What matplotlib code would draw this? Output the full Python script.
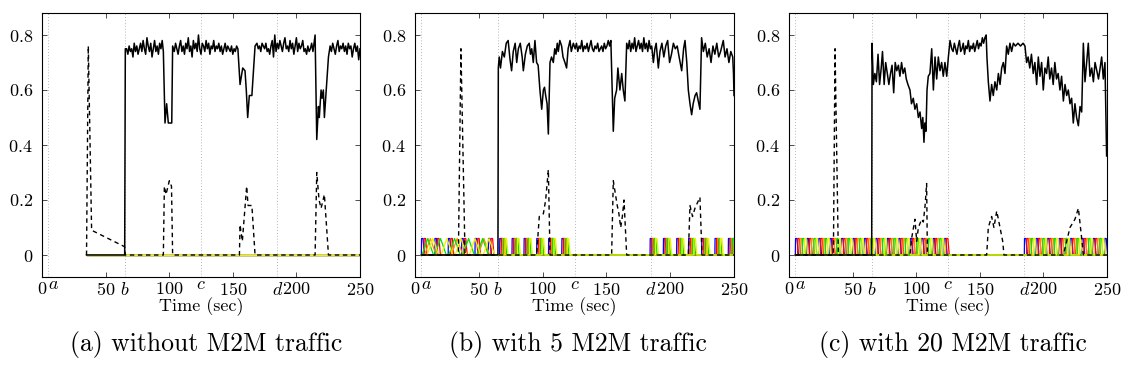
import numpy as np
import matplotlib
matplotlib.use('Agg')
import matplotlib.pyplot as plt
import matplotlib.transforms as mtransforms

plt.rcParams['font.family'] = 'cmr10'
plt.rcParams['mathtext.fontset'] = 'cm'
plt.rcParams['axes.unicode_minus'] = False

# ---------------- common chart data ----------------
x_ticks = [0, 50, 100, 150, 200, 250]
y_ticks = [0, 0.2, 0.4, 0.6, 0.8]
event_pos = [5, 65, 125, 185]
event_labels = ['a', 'b', 'c', 'd']
captions = ['(a) without M2M traffic', '(b) with 5 M2M traffic', '(c) with 20 M2M traffic']
xlabel = 'Time (sec)'
M2M_RATE = 0.06
m2m_colors = ['#0000ff', '#ff0000', '#ff8c00', '#00e000', '#f0f000']


def seg(t0, t1, values):
    """noise samples read at an even time step between t0 and t1"""
    return list(np.linspace(t0, t1, len(values))), list(values)


def join(*parts):
    t, v = [], []
    for pt, pv in parts:
        t += list(pt)
        v += list(pv)
    return t, v


# ---------------- panel (a) ----------------
a_solid = join(
    ([35, 65, 65.5], [0, 0, 0.75]),
    seg(66.5, 94.5, [0.75, 0.73, 0.76, 0.74, 0.75, 0.72, 0.77, 0.74, 0.76, 0.73, 0.75, 0.77, 0.74, 0.78,
                     0.75, 0.73, 0.79, 0.76, 0.74, 0.77, 0.72, 0.75, 0.78, 0.74, 0.76, 0.73, 0.77, 0.75, 0.78]),
    ([95.4, 96.7, 98, 99.3, 102, 102.7], [0.74, 0.48, 0.55, 0.48, 0.48, 0.76]),
    seg(104, 154, [0.74, 0.77, 0.75, 0.73, 0.76, 0.78, 0.74, 0.76, 0.73, 0.77, 0.75, 0.79, 0.74, 0.76,
                   0.72, 0.78, 0.75, 0.77, 0.74, 0.8, 0.75, 0.73, 0.77, 0.76, 0.74, 0.78, 0.75, 0.77,
                   0.73, 0.76, 0.75, 0.78, 0.74, 0.76, 0.75, 0.77, 0.74, 0.76, 0.73, 0.75, 0.77, 0.74,
                   0.76, 0.75, 0.74, 0.76, 0.73, 0.75, 0.74, 0.76, 0.75]),
    ([155.7, 157.8, 159.6, 160.6, 161.7, 163, 165, 167.5], [0.62, 0.68, 0.67, 0.6, 0.5, 0.58, 0.58, 0.76]),
    seg(169, 213, [0.77, 0.75, 0.76, 0.74, 0.77, 0.76, 0.75, 0.77, 0.74, 0.75, 0.73, 0.76, 0.78, 0.72,
                   0.8, 0.74, 0.77, 0.75, 0.78, 0.76, 0.74, 0.77, 0.79, 0.75, 0.76, 0.74, 0.78, 0.75,
                   0.77, 0.73, 0.76, 0.79, 0.74, 0.77, 0.75, 0.76, 0.78, 0.74, 0.75, 0.73, 0.76, 0.74,
                   0.75, 0.77, 0.74]),
    ([214.7, 216, 217.3, 218, 219.4, 220.2, 221.2, 222, 225.2], [0.8, 0.42, 0.54, 0.5, 0.6, 0.57, 0.6, 0.5, 0.72]),
    seg(226.5, 250, [0.76, 0.74, 0.77, 0.75, 0.73, 0.76, 0.78, 0.74, 0.76, 0.75, 0.77, 0.74, 0.76, 0.73,
                     0.77, 0.75, 0.76, 0.72, 0.75, 0.77, 0.74, 0.76, 0.71, 0.75]),
)
a_dash_t = [35, 36.4, 39, 65, 65.5, 95.4, 96.2, 97.5, 100.1, 101.8, 102.7, 155.2, 155.7, 157.5, 160.9,
            162, 165, 167.5, 214.7, 216, 217.8, 219.4, 222, 225.2, 250]
a_dash_v = [0, 0.76, 0.09, 0.03, 0, 0, 0.25, 0.22, 0.27, 0.25, 0, 0, 0.11, 0.05, 0.25,
            0.18, 0.18, 0, 0, 0.3, 0.2, 0.17, 0.22, 0, 0]
a_m2m = [dict(sharp=[], tri=[]) for _ in range(5)]
a_m2m_span = (35, 250)

# ---------------- panel (b) ----------------
b_solid_t = [5, 65, 65.3, 66, 67, 68.5, 70, 71.5, 73, 74.5, 75.7, 77, 78.5, 79.7, 81, 82.5, 84, 84.9, 86.5,
             88, 89.5, 90.5, 91.5, 92.7, 94, 95.3, 96.5, 97.9, 99.3, 100.6, 101.5, 102.4, 103.5, 104.5,
             105.8, 107, 108.4, 109.5, 110.5, 111.5, 112.3, 113.5, 114.9, 116, 117.5, 118.8, 120, 121.5,
             122.5, 124.1]
b_solid_v = [0, 0, 0.68, 0.72, 0.68, 0.74, 0.72, 0.77, 0.78, 0.71, 0.67, 0.74, 0.77, 0.7, 0.75, 0.77, 0.72,
             0.67, 0.73, 0.76, 0.77, 0.73, 0.75, 0.7, 0.78, 0.7, 0.69, 0.6, 0.53, 0.6, 0.61, 0.58, 0.55,
             0.44, 0.7, 0.72, 0.7, 0.75, 0.73, 0.77, 0.74, 0.78, 0.76, 0.72, 0.7, 0.68, 0.75, 0.78, 0.74,
             0.77]
b_solid = join(
    (b_solid_t, b_solid_v),
    seg(125.5, 152.5, [0.75, 0.77, 0.74, 0.76, 0.75, 0.78, 0.74, 0.76, 0.75, 0.77, 0.74, 0.76, 0.78, 0.75,
                       0.74, 0.76, 0.75, 0.77, 0.74, 0.75, 0.76, 0.74, 0.77, 0.75, 0.76, 0.78, 0.76]),
    ([153.5, 155.4, 156.5, 158, 159, 160.6, 162, 163.2, 164.5, 165.9],
     [0.78, 0.45, 0.57, 0.6, 0.68, 0.6, 0.66, 0.6, 0.56, 0.77]),
    seg(167, 185.5, [0.75, 0.78, 0.74, 0.77, 0.75, 0.79, 0.74, 0.76, 0.78, 0.75, 0.77, 0.74, 0.79, 0.75,
                     0.77, 0.74, 0.78, 0.75, 0.76]),
    ([186.8, 188, 189, 190.7, 192, 193.5, 195, 196.5, 198, 199.5, 201, 202.5, 204, 205.5, 207, 209, 210.5,
      211.6, 213, 214.2, 215.5, 216.8, 218, 219.5, 220.7, 222, 223.3, 224.6, 226, 227.5, 229, 230.5, 232,
      233.5, 235, 236.5, 238, 239.5, 241.6, 243, 244.5, 246, 247.5, 249, 249.6, 250],
     [0.7, 0.75, 0.77, 0.68, 0.74, 0.77, 0.72, 0.76, 0.78, 0.7, 0.73, 0.77, 0.75, 0.76, 0.72, 0.67, 0.75,
      0.78, 0.7, 0.6, 0.55, 0.51, 0.55, 0.58, 0.59, 0.56, 0.53, 0.79, 0.74, 0.77, 0.72, 0.75, 0.7,
      0.76, 0.73, 0.77, 0.72, 0.74, 0.78, 0.72, 0.75, 0.7, 0.74, 0.72, 0.66, 0.58]),
)
b_dash_t = [5, 34, 36, 39.2, 95.3, 97.4, 100.6, 102.4, 104.5, 105.8, 154.1, 155.4, 158.5, 159.8, 161.2,
            162.5, 163.8, 165.9, 214.2, 215.5, 217.5, 219.4, 223.3, 224.9, 250]
b_dash_v = [0, 0, 0.75, 0, 0, 0.14, 0.15, 0.2, 0.31, 0, 0, 0.27, 0.18, 0.15, 0.1,
            0.14, 0.2, 0, 0, 0.18, 0.14, 0.17, 0.21, 0, 0]
b_m2m = [
    dict(sharp=[5, 15.5, 26, 36.5, 47, 57.5, 66.3, 76, 85.4, 95.3, 104.6, 115,
                184.2, 194.6, 205, 214.3, 224.6, 235, 245.5], tri=[]),
    dict(sharp=[7, 17.5, 28, 38.5, 49, 59.5, 67.5, 77.2, 86.6, 96.5, 105.8, 116.2,
                185.4, 195.8, 206.2, 215.5, 225.8, 236.2, 246.7], tri=[]),
    dict(sharp=[68.5, 78.2, 87.6, 97.5, 106.8, 117.2,
                186.4, 196.8, 207.2, 216.5, 226.8, 237.2, 247.7], tri=[12, 33, 54]),
    dict(sharp=[69.5, 79.2, 88.6, 98.5, 107.8, 118.2,
                187.4, 197.8, 208.2, 217.5, 227.8, 238.2, 248.6], tri=[10, 20, 31, 42, 53]),
    dict(sharp=[70.5, 80.2, 89.6, 99.5, 108.8, 119.2,
                188.4, 198.8, 209.2, 218.5, 228.8, 239.2], tri=[14, 25, 36, 47, 58]),
]
b_m2m_span = (5, 250)

# ---------------- panel (c) ----------------
c_solid = join(
    ([5, 65, 65.3, 66.3, 67.5, 68.7, 70, 71.2, 72.5, 73.5, 74.8, 76, 77.3, 78.5, 79.8, 81, 82.3, 83.5,
      84.7, 86, 87.2, 88.5, 89.7, 91, 92.2, 93.5, 95.1, 96.3, 97.7, 99, 100.4, 101.7, 103, 104.3, 105.2,
      106.1, 106.8, 107.7, 108.5, 109.5, 110.8, 112.2, 113.5, 114.8, 116.1, 117.4, 118.7, 120, 121.3,
      122.6, 124, 125.3, 126.6, 127.9],
     [0, 0, 0.77, 0.62, 0.66, 0.63, 0.73, 0.62, 0.68, 0.74, 0.62, 0.7, 0.66, 0.62, 0.66, 0.69, 0.59, 0.7,
      0.67, 0.69, 0.65, 0.7, 0.66, 0.68, 0.64, 0.62, 0.6, 0.55, 0.57, 0.53, 0.55, 0.5, 0.52, 0.46, 0.5,
      0.41, 0.48, 0.45, 0.6, 0.65, 0.66, 0.75, 0.6, 0.72, 0.64, 0.72, 0.67, 0.7, 0.65,
      0.7, 0.65, 0.72, 0.78, 0.75]),
    seg(129, 154, [0.74, 0.77, 0.75, 0.73, 0.76, 0.78, 0.74, 0.75, 0.77, 0.73, 0.76, 0.75, 0.78, 0.74,
                   0.76, 0.75, 0.77, 0.74, 0.76, 0.78, 0.75, 0.77, 0.76, 0.79, 0.77, 0.79]),
    ([155, 155.6, 156.7, 158, 159.3, 160.6, 161.9, 163.3, 164.6, 165.9, 167.2, 168.5, 169.8, 171.1, 172.4,
      173.7, 175, 176.4, 178, 180, 182, 184, 185.5, 186.8, 188, 189.3, 190.6, 192, 193.3, 194.7, 196,
      197.3, 198.6, 199.9, 201.2, 202.5, 203.8, 205, 206.4, 207.7, 209, 210.3, 211.6, 213, 214.3, 215.7,
      217, 218.3, 219.6, 220.9, 222.2, 223.5, 224.8, 226.1, 227.5, 228.8, 230.1, 231.4, 232.7, 234,
      235.3, 236.6, 238, 239.3, 240.6, 242, 243.3, 244.6, 245.8, 247.1, 248.4, 249.7],
     [0.8, 0.72, 0.63, 0.56, 0.62, 0.58, 0.63, 0.6, 0.66, 0.62, 0.68, 0.7, 0.66, 0.76, 0.73,
      0.77, 0.74, 0.77, 0.76, 0.77, 0.76, 0.77, 0.76, 0.7, 0.72, 0.68, 0.73, 0.66, 0.7, 0.62, 0.72,
      0.65, 0.7, 0.6, 0.68, 0.66, 0.72, 0.64, 0.68, 0.62, 0.7, 0.64, 0.66, 0.6, 0.65, 0.56,
      0.62, 0.58, 0.6, 0.55, 0.57, 0.48, 0.55, 0.5, 0.47, 0.54, 0.52, 0.77, 0.63, 0.7,
      0.77, 0.65, 0.68, 0.63, 0.7, 0.67, 0.64, 0.68, 0.72, 0.64, 0.7, 0.36]),
)
c_dash_t = [5, 34.9, 36.2, 38.8, 95.1, 96.4, 99, 100.4, 101.7, 104.3, 105.6, 107, 108.2, 108.8,
            155.4, 156.7, 159.3, 161.1, 163.3, 165.9, 168, 169, 215.7, 218.3, 220.9, 224.8, 227.5,
            230.1, 231.4, 250]
c_dash_v = [0, 0, 0.75, 0, 0, 0.06, 0.13, 0.05, 0.1, 0.13, 0.12, 0.18, 0.26, 0,
            0, 0.1, 0.14, 0.1, 0.16, 0.1, 0.05, 0, 0, 0.05, 0.1, 0.13, 0.17,
            0.06, 0, 0]
c_m2m = [
    dict(sharp=[5, 14, 23.2, 32, 41.1, 50, 59.2, 68, 77.1, 86, 95.2, 104, 113.1, 122,
                185, 194.1, 203, 212.2, 221, 230.1, 239, 248.1], tri=[]),
    dict(sharp=[6.8, 15.9, 24.8, 33.9, 42.8, 51.9, 60.8, 69.9, 78.8, 87.9, 96.8, 105.9, 114.8, 123.6,
                186.8, 195.9, 204.8, 213.9, 222.8, 231.9, 240.8], tri=[]),
    dict(sharp=[8.6, 17.6, 26.7, 35.6, 44.7, 53.6, 62.7, 71.6, 80.7, 89.6, 98.7, 107.6, 116.7,
                188.6, 197.7, 206.6, 215.7, 224.6, 233.7, 242.6], tri=[]),
    dict(sharp=[10.4, 19.5, 28.4, 37.5, 46.4, 55.5, 64.4, 73.5, 82.4, 91.5, 100.4, 109.5, 118.4,
                190.4, 199.5, 208.4, 217.5, 226.4, 235.5, 244.4], tri=[]),
    dict(sharp=[12.2, 21.2, 30.3, 39.2, 48.3, 57.2, 66.3, 75.2, 84.3, 93.2, 102.3, 111.2, 120.3,
                192.2, 201.3, 210.2, 219.3, 228.2, 237.3, 246.2], tri=[]),
]
c_m2m_span = (5, 250)

panels = [
    (a_solid, (a_dash_t, a_dash_v), a_m2m, a_m2m_span),
    (b_solid, (b_dash_t, b_dash_v), b_m2m, b_m2m_span),
    (c_solid, (c_dash_t, c_dash_v), c_m2m, c_m2m_span),
]


def m2m_path(flow, span):
    ev = sorted([(t, 's') for t in flow['sharp']] + [(t, 't') for t in flow['tri']])
    pts = [(span[0], 0.0)]
    for t, kind in ev:
        if kind == 's':
            pts += [(t, 0.0), (t + 0.15, M2M_RATE), (t + 1.3, M2M_RATE), (t + 2.4, 0.0)]
        else:
            pts += [(t - 4.5, 0.0), (t, M2M_RATE), (t + 4.5, 0.0)]
    pts.append((span[1], 0.0))
    arr = np.array(pts)
    return arr[:, 0], arr[:, 1]


# ---------------- figure ----------------
W, H = 1124, 378
fig = plt.figure(figsize=(W / 100, H / 100), dpi=100)
ax_px = [(42, 318), (415, 319), (789, 318)]
caption_cx = [206, 578, 953]
top_px, bot_px = 13, 277
FS = 13

for i, ((st, sv), (dt, dv), flows, span) in enumerate(panels):
    left, width = ax_px[i]
    ax = fig.add_axes([left / W, 1 - bot_px / H, width / W, (bot_px - top_px) / H])
    ax.set_xlim(0, 250)
    ax.set_ylim(-0.08, 0.88)

    for k, fl in enumerate(flows):
        fx, fy = m2m_path(fl, span)
        ax.plot(fx, fy, color=m2m_colors[k % len(m2m_colors)], lw=0.9, zorder=2)
    ax.plot(st, sv, color='black', lw=1.1, zorder=3)
    ax.plot(dt, dv, color='black', lw=1.0, dashes=(3.2, 2.6), zorder=4)

    ax.set_xticks(x_ticks, labels=[f'${t}$' for t in x_ticks])
    # letters with ascenders sit on the digit baseline as tick labels
    ax.set_xticks(event_pos, labels=[f'${s}$' if s in ('b', 'd') else '' for s in event_labels], minor=True)
    ax.set_yticks(y_ticks, labels=[f'${t:g}$' for t in y_ticks])
    ax.tick_params(which='major', direction='in', top=True, right=True, length=3.5, width=0.6,
                   labelsize=FS, color='#303030')
    ax.tick_params(axis='x', which='major', pad=3)
    ax.tick_params(axis='y', which='major', pad=6.5)
    ax.tick_params(which='minor', axis='x', direction='in', length=0, labelsize=FS, pad=3)
    ax.xaxis.grid(True, which='minor', color='#a0a0a0', lw=0.6, ls=(0, (1, 2.5)))
    for s in ax.spines.values():
        s.set_linewidth(0.8)

    # x-height letters are top-aligned in the reference, so they sit higher
    trans = mtransforms.blended_transform_factory(ax.transData, ax.transAxes)
    base_y = -(289 - bot_px) / (bot_px - top_px)
    for pos, lab in zip(event_pos, event_labels):
        if lab == 'a':
            t = ax.text(pos, base_y, f'${lab}$', transform=trans, ha='left', va='baseline',
                        fontsize=FS, clip_on=False)
            t.set_transform(trans + mtransforms.ScaledTranslation(-0.5 / 72, 0, fig.dpi_scale_trans))
        elif lab == 'c':
            ax.text(pos, base_y, f'${lab}$', transform=trans, ha='center', va='baseline',
                    fontsize=FS, clip_on=False)

    cx = (left + width / 2) / W
    fig.text(cx, 1 - 306.5 / H, xlabel, ha='center', va='center', fontsize=FS)
    fig.text(caption_cx[i] / W, 1 - 345 / H, captions[i], ha='center', va='center', fontsize=18.5)

fig.savefig('out.png', dpi=100)
